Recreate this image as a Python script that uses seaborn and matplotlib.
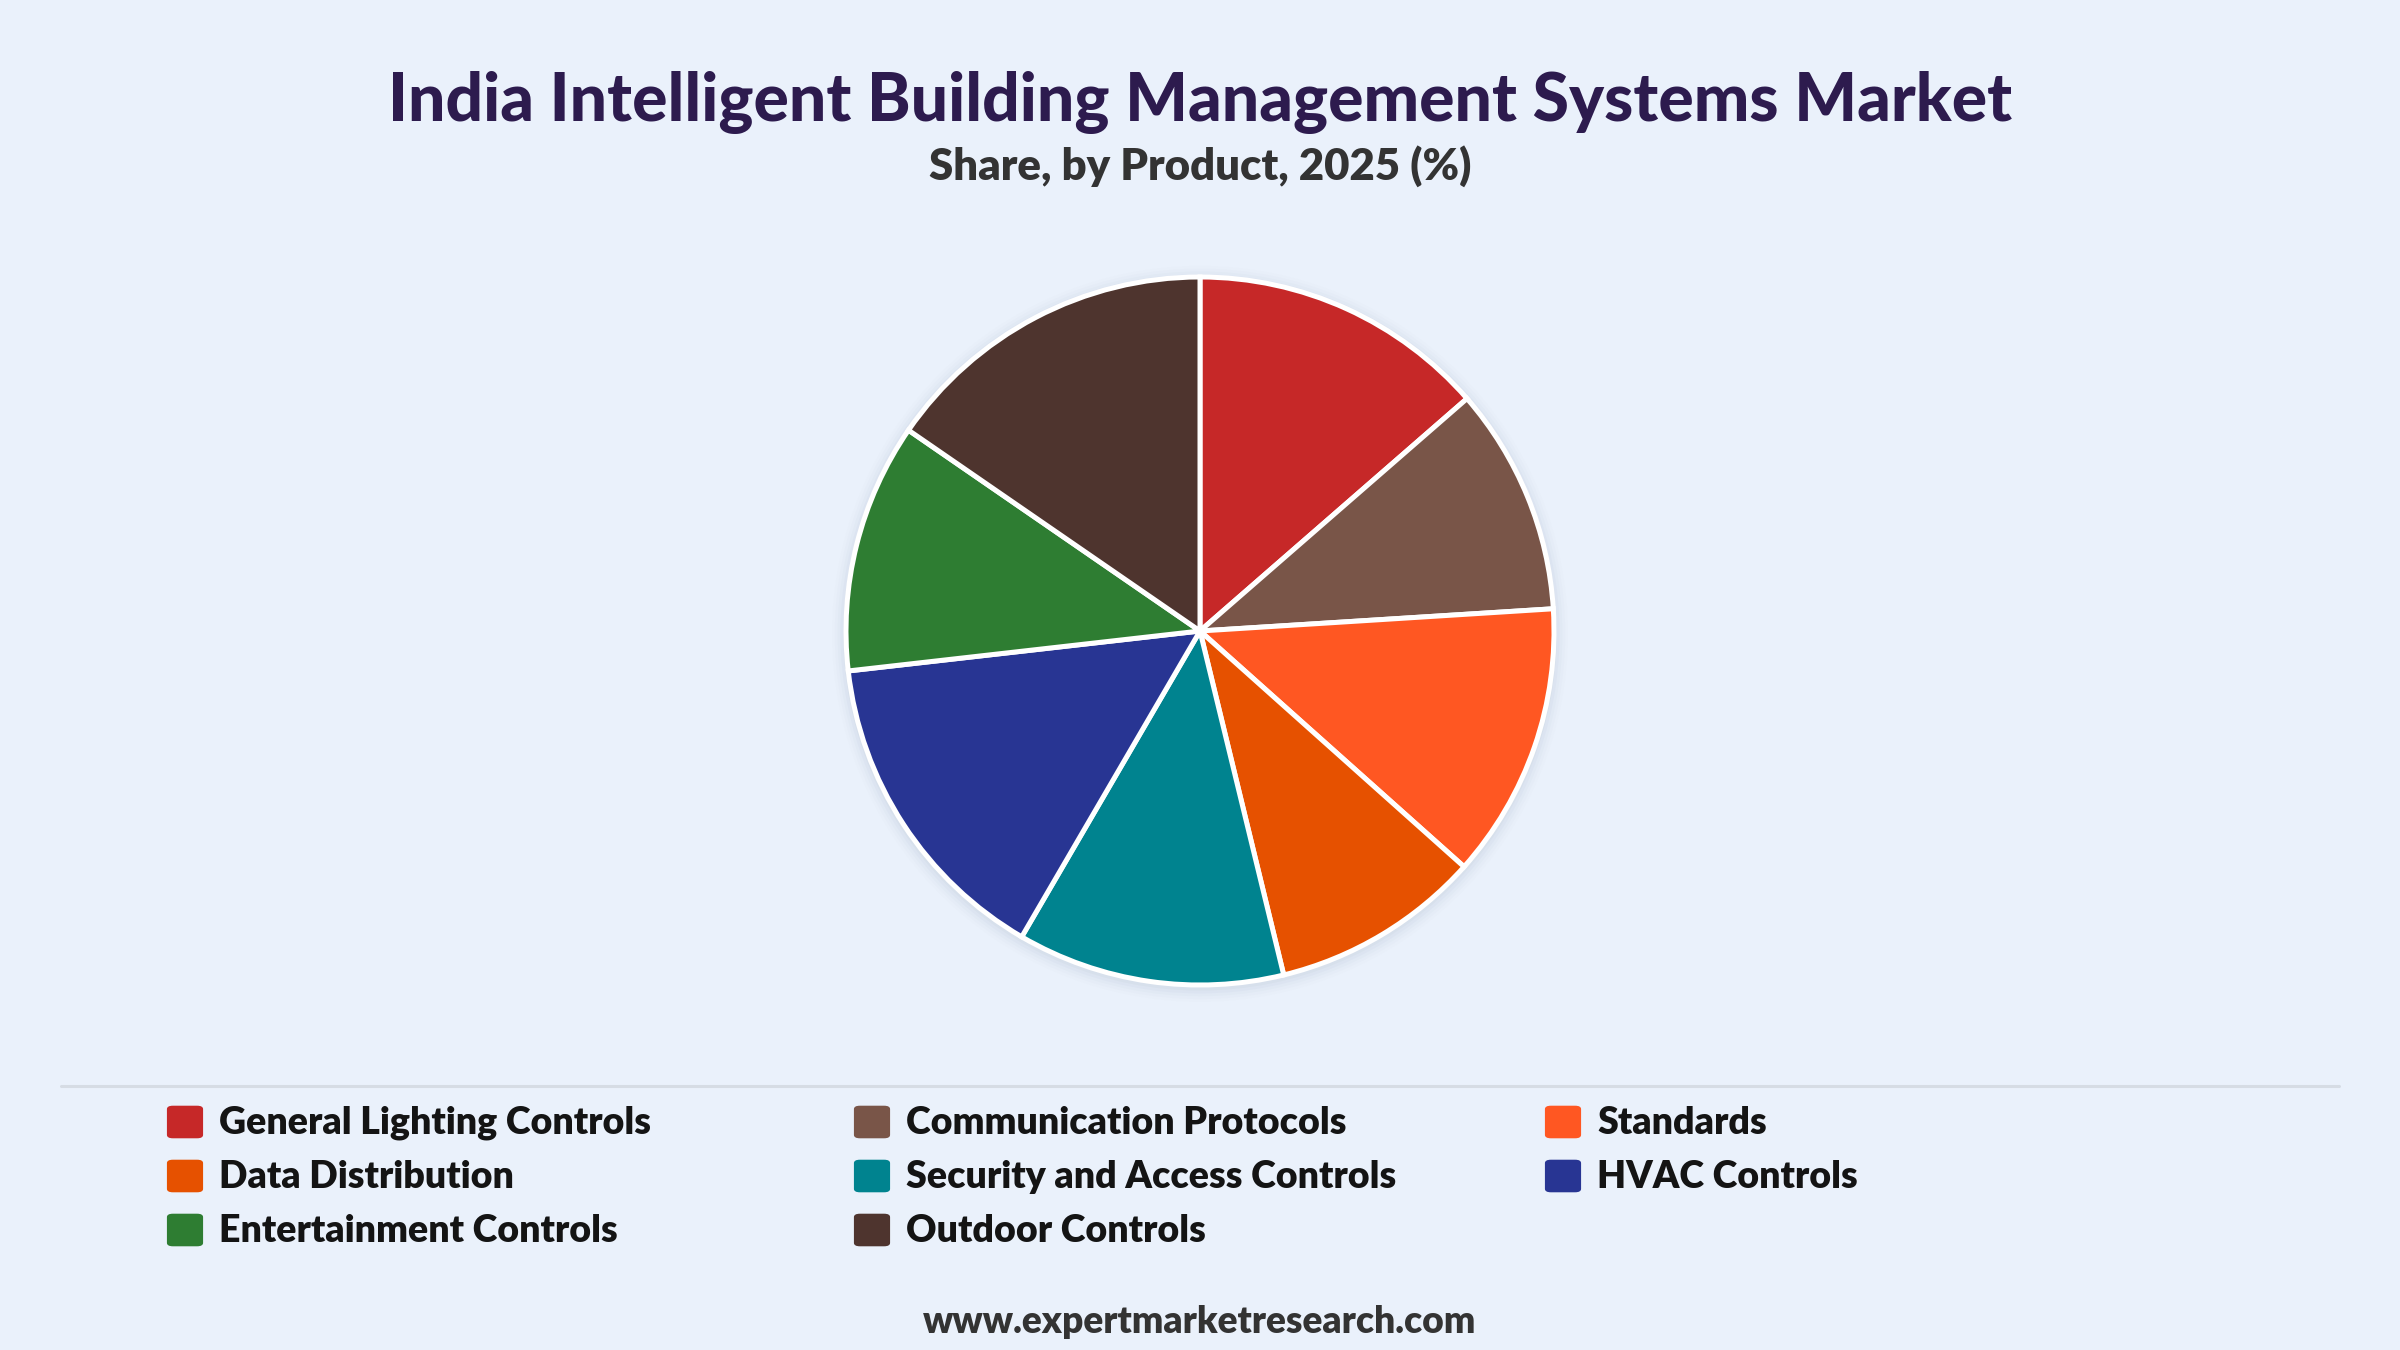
import matplotlib
matplotlib.use("Agg")
import matplotlib.pyplot as plt
from matplotlib.patches import FancyBboxPatch, Circle
import seaborn as sns

# ---- data ----
categories = ["General Lighting Controls", "Communication Protocols", "Standards",
              "Data Distribution", "Security and Access Controls", "HVAC Controls",
              "Entertainment Controls", "Outdoor Controls"]
shares = [13.6, 10.4, 12.6, 9.6, 12.2, 14.8, 11.4, 15.4]
colors = ["#c62828", "#795548", "#ff5722", "#e65100", "#00838f", "#283593",
          "#2e7d32", "#4e342e"]
title = "India Intelligent Building Management Systems Market"
subtitle = "Share, by Product, 2025 (%)"
footer = "www.expertmarketresearch.com"

BG = "#eaf1fb"
sns.set_theme(style="white")
plt.rcParams["font.family"] = ["Lato", "DejaVu Sans"]

W, H = 2400, 1350
fig = plt.figure(figsize=(24, 13.5), dpi=100, facecolor=BG)

def fy(px):
    return 1 - px / H

def fx(px):
    return px / W

# titles
fig.text(0.5, fy(121), title, ha="center", va="baseline", fontsize=47.5,
         fontweight="black", color="#2d1b4e")
fig.text(0.5, fy(180), subtitle, ha="center", va="baseline", fontsize=31.5,
         fontweight="heavy", color="#333333")

# pie
cx, cy, R = 1200, 631, 354
pad = 1.06
ax = fig.add_axes([fx(cx - R * pad), fy(cy + R * pad), 2 * R * pad / W, 2 * R * pad / H])
ax.set_facecolor("none")
for i, a in enumerate([0.05, 0.04, 0.03, 0.02, 0.012]):
    ax.add_patch(Circle((0.0, -0.008), 1.0 + 0.008 * (i + 1), color="#7a8aa0",
                        alpha=a, lw=0, zorder=0))
ax.pie(shares, colors=colors, startangle=90, counterclock=False, radius=1.0,
       wedgeprops=dict(edgecolor="white", linewidth=3.6))
ax.set_xlim(-pad, pad)
ax.set_ylim(-pad, pad)
ax.set_aspect("equal")
ax.axis("off")

# separator line
fig.add_artist(plt.Line2D([fx(61), fx(2339)], [fy(1086), fy(1086)], color="#d6dce4",
                          lw=2.2, transform=fig.transFigure))

# legend (row-major, 3 columns)
col_x = [167, 854, 1545]
row_c = [1122, 1176, 1230]
sq = 36
for i, (lab, col) in enumerate(zip(categories, colors)):
    r, c = divmod(i, 3)
    x0 = col_x[c]
    yc = row_c[r]
    fig.add_artist(FancyBboxPatch((fx(x0 + 4), fy(yc + sq / 2 - 4)),
                                  (sq - 8) / W, (sq - 8) / H,
                                  boxstyle="round,pad=0.0017,rounding_size=0.0025",
                                  transform=fig.transFigure, facecolor=col,
                                  edgecolor="none"))
    fig.text(fx(x0 + 52), fy(yc + 12), lab, ha="left", va="baseline", fontsize=27,
             fontweight="heavy", color="#141414")

fig.text(0.5, fy(1333), footer, ha="center", va="baseline", fontsize=26.7,
         fontweight="heavy", color="#333333")

fig.savefig("out.png", dpi=100, facecolor=BG)
